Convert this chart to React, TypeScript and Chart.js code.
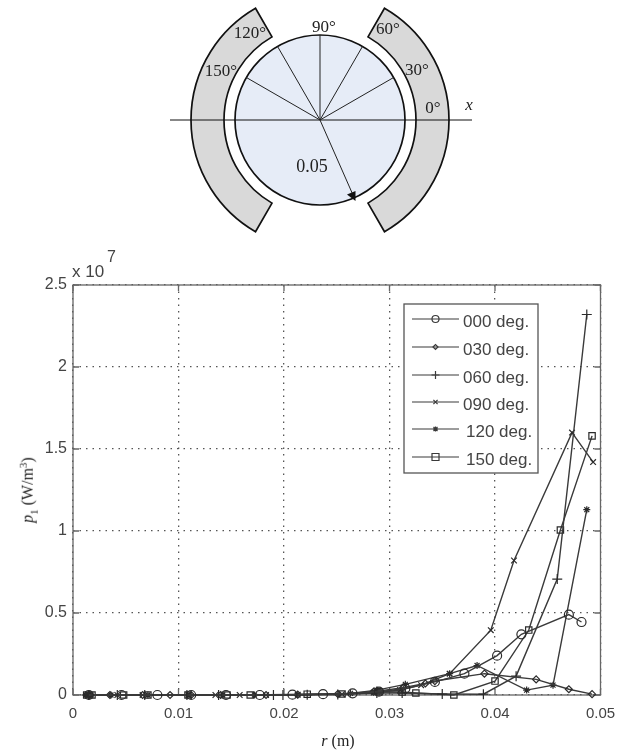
import React, { useEffect, useRef } from "react";
import { Chart, registerables } from "chart.js";

Chart.register(...registerables);

const seriesNames = ["000 deg.", "030 deg.", "060 deg.", "090 deg.", "120 deg.", "150 deg."];
const markerStyles = ["circle", "rectRot", "cross", "crossRot", "star", "rect"];
const markerRadii = [4.5, 3.5, 5, 4, 3.5, 4.5];

const r000 = [0.0015, 0.0046, 0.008, 0.0112, 0.0145, 0.0177, 0.0208, 0.0237, 0.0265, 0.029, 0.0315, 0.0343, 0.0371, 0.0402, 0.0425, 0.047, 0.0482];
const p000 = [0, 0, 0, 0, 0, 0, 0.002, 0.005, 0.01, 0.02, 0.04, 0.08, 0.13, 0.24, 0.37, 0.49, 0.445];
const r030 = [0.0015, 0.0035, 0.0066, 0.0092, 0.0112, 0.014, 0.0183, 0.0213, 0.0251, 0.0285, 0.0313, 0.0334, 0.0343, 0.039, 0.0439, 0.047, 0.0492];
const p030 = [0, 0, 0, 0, 0, 0, 0, 0.002, 0.006, 0.02, 0.045, 0.07, 0.085, 0.13, 0.095, 0.035, 0.005];
const r060 = [0.0015, 0.0042, 0.0068, 0.0108, 0.0138, 0.019, 0.0199, 0.0222, 0.0251, 0.0288, 0.0312, 0.035, 0.0389, 0.042, 0.0459, 0.0487];
const p060 = [0, 0, 0, 0, 0, 0, 0, 0.001, 0.003, 0.012, 0.012, 0.006, 0.005, 0.115, 0.707, 2.32];
const r090 = [0.0015, 0.0042, 0.0066, 0.011, 0.0135, 0.0158, 0.0183, 0.0213, 0.0255, 0.0285, 0.031, 0.033, 0.0357, 0.0396, 0.0418, 0.0473, 0.0493];
const p090 = [0, 0, 0, 0, 0, 0, 0, 0.002, 0.005, 0.015, 0.03, 0.06, 0.13, 0.395, 0.82, 1.6, 1.42];
const r120 = [0.0012, 0.0017, 0.0036, 0.0071, 0.0109, 0.0142, 0.0172, 0.0213, 0.0263, 0.0288, 0.0315, 0.0357, 0.0383, 0.043, 0.0455, 0.0487];
const p120 = [0, 0, 0, 0, 0, 0, 0, 0.002, 0.01, 0.03, 0.065, 0.13, 0.18, 0.03, 0.06, 1.13];
const r150 = [0.0013, 0.0018, 0.0048, 0.0071, 0.0109, 0.0146, 0.0168, 0.0222, 0.0255, 0.029, 0.0312, 0.0325, 0.0361, 0.04, 0.0432, 0.0462, 0.0492];
const p150 = [0, 0, 0, 0, 0, 0, 0, 0.005, 0.006, 0.02, 0.018, 0.012, 0, 0.085, 0.396, 1.006, 1.58];

const rValues = [r000, r030, r060, r090, r120, r150];
const pValues = [p000, p030, p060, p090, p120, p150];

const xTicks = [0, 0.01, 0.02, 0.03, 0.04, 0.05];
const yTicks = [0, 0.5, 1, 1.5, 2, 2.5];
const diagramAngles = [30, 60, 90, 120, 150];

const lineColor = "#3a3a3a";
const frameColor = "#666666";

const sans = "'Liberation Sans', Arial, sans-serif";
const serif = "'Liberation Serif', 'Times New Roman', serif";

function drawMarker(ctx: any, style: string, x: number, y: number, r: number) {
  ctx.beginPath();
  if (style === "circle") {
    ctx.arc(x, y, r, 0, Math.PI * 2);
  } else if (style === "rect") {
    ctx.rect(x - r, y - r, r * 2, r * 2);
  } else if (style === "rectRot") {
    ctx.moveTo(x - r, y);
    ctx.lineTo(x, y - r);
    ctx.lineTo(x + r, y);
    ctx.lineTo(x, y + r);
    ctx.closePath();
  } else if (style === "cross") {
    ctx.moveTo(x - r, y);
    ctx.lineTo(x + r, y);
    ctx.moveTo(x, y - r);
    ctx.lineTo(x, y + r);
  } else if (style === "crossRot") {
    const d = r * 0.7;
    ctx.moveTo(x - d, y - d);
    ctx.lineTo(x + d, y + d);
    ctx.moveTo(x - d, y + d);
    ctx.lineTo(x + d, y - d);
  } else {
    const d = r * 0.8;
    ctx.moveTo(x - r, y);
    ctx.lineTo(x + r, y);
    ctx.moveTo(x, y - r);
    ctx.lineTo(x, y + r);
    ctx.moveTo(x - d, y - d);
    ctx.lineTo(x + d, y + d);
    ctx.moveTo(x - d, y + d);
    ctx.lineTo(x + d, y - d);
  }
  ctx.stroke();
}

const frameAndLegend = {
  id: "frameAndLegend",
  beforeDatasetsDraw(chart: any) {
    const { ctx, chartArea: a, scales } = chart;
    ctx.save();
    ctx.strokeStyle = frameColor;
    ctx.lineWidth = 1.3;
    ctx.setLineDash([]);
    ctx.strokeRect(a.left, a.top, a.right - a.left, a.bottom - a.top);
    ctx.beginPath();
    xTicks.forEach((t) => {
      const x = scales.x.getPixelForValue(t);
      ctx.moveTo(x, a.bottom);
      ctx.lineTo(x, a.bottom - 6);
      ctx.moveTo(x, a.top);
      ctx.lineTo(x, a.top + 6);
    });
    yTicks.forEach((t) => {
      const y = scales.y.getPixelForValue(t);
      ctx.moveTo(a.left, y);
      ctx.lineTo(a.left + 6, y);
      ctx.moveTo(a.right, y);
      ctx.lineTo(a.right - 6, y);
    });
    ctx.stroke();
    ctx.restore();
  },
  afterDatasetsDraw(chart: any) {
    const { ctx } = chart;
    ctx.save();
    const box = { x: 404, y: 304, w: 134, h: 169 };
    ctx.fillStyle = "#ffffff";
    ctx.fillRect(box.x, box.y, box.w, box.h);
    ctx.strokeStyle = "#555555";
    ctx.lineWidth = 1.3;
    ctx.strokeRect(box.x, box.y, box.w, box.h);
    ctx.font = `17px ${sans}`;
    ctx.textBaseline = "middle";
    ctx.textAlign = "left";
    const rowsY = [319, 347, 375, 402, 429, 457];
    seriesNames.forEach((name, i) => {
      const y = rowsY[i];
      ctx.strokeStyle = lineColor;
      ctx.lineWidth = 1.2;
      ctx.beginPath();
      ctx.moveTo(412, y);
      ctx.lineTo(459, y);
      ctx.stroke();
      drawMarker(ctx, markerStyles[i], 435.5, y, markerRadii[i] - 1);
      ctx.fillStyle = "#444444";
      ctx.fillText(name, i >= 4 ? 466 : 463, y + 3);
    });
    ctx.restore();
  },
};

function Diagram() {
  const cx = 320;
  const cy = 120;
  const R = 85;
  const ri = 96;
  const ro = 129;
  const rad = (d: number) => (d * Math.PI) / 180;
  const pt = (r: number, d: number) => `${cx + r * Math.cos(rad(d))} ${cy - r * Math.sin(rad(d))}`;
  const right = `M${pt(ri, 60)} L${pt(ro, 60)} A${ro} ${ro} 0 0 1 ${pt(ro, -60)} L${pt(ri, -60)} A${ri} ${ri} 0 0 0 ${pt(ri, 60)} Z`;
  const left = `M${pt(ri, 120)} L${pt(ro, 120)} A${ro} ${ro} 0 0 0 ${pt(ro, 240)} L${pt(ri, 240)} A${ri} ${ri} 0 0 1 ${pt(ri, 120)} Z`;
  const labels: [string, number, number][] = [
    ["90°", 324, 28],
    ["60°", 388, 30],
    ["30°", 417, 71],
    ["0°", 433, 109],
    ["120°", 250, 34],
    ["150°", 221, 72],
    ["0.05", 312, 168],
  ];
  return (
    <svg width={618} height={245} style={{ position: "absolute", left: 0, top: 0 }}>
      <path d={right} fill="#d9d9d9" stroke="#111" strokeWidth={1.7} />
      <path d={left} fill="#d9d9d9" stroke="#111" strokeWidth={1.7} />
      <circle cx={cx} cy={cy} r={R} fill="#e6ecf7" stroke="#111" strokeWidth={1.7} />
      <line x1={170} y1={cy} x2={472} y2={cy} stroke="#111" strokeWidth={1} />
      {diagramAngles.map((d) => (
        <line key={d} x1={cx} y1={cy} x2={cx + R * Math.cos(rad(d))} y2={cy - R * Math.sin(rad(d))} stroke="#222" strokeWidth={1} />
      ))}
      <line x1={cx} y1={cy} x2={353} y2={195} stroke="#222" strokeWidth={1} />
      <polygon points="355.5,201 347,194.5 355.5,191" fill="#111" />
      {labels.map(([t, x, y]) => (
        <text key={t} x={x} y={y} textAnchor="middle" dominantBaseline="middle" fontFamily={serif} fontSize={t === "0.05" ? 18 : 17} fill="#222">
          {t}
        </text>
      ))}
      <text x={469} y={106} textAnchor="middle" dominantBaseline="middle" fontFamily={serif} fontStyle="italic" fontSize={17} fill="#222">
        x
      </text>
    </svg>
  );
}

export default function App() {
  const ref = useRef<HTMLCanvasElement>(null);

  useEffect(() => {
    document.body.style.margin = "0";
    const chart = new Chart(ref.current as HTMLCanvasElement, {
      type: "line",
      data: {
        datasets: seriesNames.map((name, i) => ({
          label: name,
          data: rValues[i].map((r, j) => ({ x: r, y: pValues[i][j] })),
          borderColor: lineColor,
          borderWidth: 1.4,
          pointStyle: markerStyles[i],
          pointRadius: markerRadii[i],
          pointBorderColor: "#2a2a2a",
          pointBackgroundColor: markerStyles[i] === "star" ? "#2a2a2a" : "rgba(255,255,255,0)",
          pointBorderWidth: 1.2,
          tension: 0,
          fill: false,
          clip: false,
        })),
      },
      options: {
        animation: false,
        responsive: false,
        events: [],
        layout: { padding: { left: 0, right: 17.5, top: 285, bottom: 0 } },
        plugins: { legend: { display: false }, tooltip: { enabled: false } },
        scales: {
          x: {
            type: "linear",
            min: 0,
            max: 0.05,
            afterFit: (s: any) => {
              s.height = 56;
              s.paddingRight = 0;
              s.paddingLeft = 0;
            },
            afterBuildTicks: (s: any) => {
              s.ticks = xTicks.map((value) => ({ value }));
            },
            border: { display: false, dash: [1.5, 5] },
            grid: { color: "#555555", lineWidth: 1.3, drawTicks: false },
            ticks: {
              color: "#444444",
              font: { family: sans, size: 15 },
              padding: 10,
              maxRotation: 0,
              callback: (v: any) => String(v),
            },
          },
          y: {
            type: "linear",
            min: 0,
            max: 2.5,
            afterFit: (s: any) => {
              s.width = 73;
            },
            afterBuildTicks: (s: any) => {
              s.ticks = yTicks.map((value) => ({ value }));
            },
            border: { display: false, dash: [1.5, 5] },
            grid: { color: "#555555", lineWidth: 1.3, drawTicks: false },
            ticks: {
              color: "#444444",
              font: { family: sans, size: 16 },
              padding: 6,
              callback: (v: any) => String(v),
            },
          },
        },
      },
      plugins: [frameAndLegend],
    } as any);
    return () => chart.destroy();
  }, []);

  return (
    <div style={{ position: "relative", width: 618, height: 751, overflow: "hidden", background: "#fff" }}>
      <canvas ref={ref} width={618} height={751} style={{ position: "absolute", left: 0, top: 0 }} />
      <Diagram />
      <div style={{ position: "absolute", left: 72, top: 262, font: `17px ${sans}`, color: "#444", whiteSpace: "nowrap" }}>x 10</div>
      <div style={{ position: "absolute", left: 107, top: 248, font: `16px ${sans}`, color: "#444" }}>7</div>
      <div style={{ position: "absolute", left: 308, top: 732, width: 60, textAlign: "center", font: `16px ${serif}`, color: "#222", whiteSpace: "nowrap" }}>
        <i>r</i> (m)
      </div>
      <div
        style={{
          position: "absolute",
          left: 28,
          top: 490,
          transform: "translate(-50%,-50%) rotate(-90deg)",
          font: `16px ${serif}`,
          color: "#222",
          whiteSpace: "nowrap",
        }}
      >
        <i>p</i>
        <sub style={{ fontSize: 11 }}>1</sub> (W/m<sup style={{ fontSize: 11 }}>3</sup>)
      </div>
    </div>
  );
}
